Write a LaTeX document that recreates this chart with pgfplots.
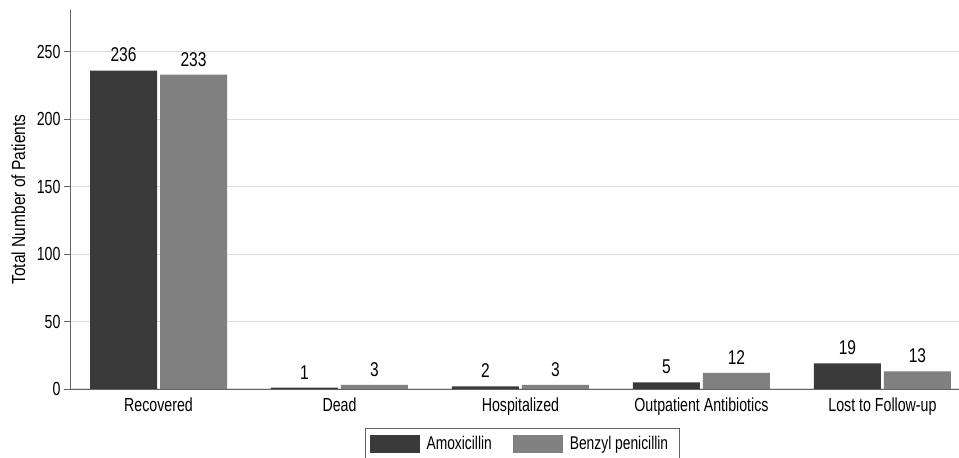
\documentclass[border=0pt]{standalone}
\usepackage{fontspec}
\setmainfont{Liberation Sans}[FakeStretch=0.75]
\newfontfamily\labfont{Liberation Sans}[FakeStretch=0.82]
\newfontfamily\numfont{Liberation Sans}[FakeStretch=0.78]
\usepackage{pgfplots}
\pgfplotsset{compat=1.18}
\definecolor{amox}{RGB}{58,58,58}
\definecolor{benz}{RGB}{128,128,128}
\definecolor{axisgray}{RGB}{100,100,100}
\definecolor{gridgray}{RGB}{220,220,220}
\begin{document}
\begin{tikzpicture}
\useasboundingbox (0,0) rectangle (959bp,458bp);
\begin{axis}[
  at={(70bp,69bp)}, anchor=south west,
  scale only axis, width=889bp, height=379bp,
  ybar, bar width=67bp,
  xmin=-0.489, xmax=4.423, ymin=0, ymax=281,
  xtick={0,...,4},
  xticklabels={Recovered,Dead,Hospitalized,Outpatient Antibiotics,Lost to Follow-up},
  ytick={0,50,...,250},
  axis x line*=bottom, axis y line*=left,
  axis line style={draw=axisgray, line width=1bp, -},
  x tick style={draw=none},
  y tick style={draw=axisgray, line width=1bp},
  tick align=outside, major tick length=6bp,
  ymajorgrids, grid style={draw=gridgray, line width=1.2bp},
  tick label style={font=\fontsize{19}{21}\selectfont},
  xticklabel style={yshift=1bp},
  /pgf/number format/assume math mode=true,
  ylabel={Total Number of Patients},
  ylabel style={font=\labfont\fontsize{19}{21}\selectfont,
    at={(axis description cs:-0.058,0.5)}, anchor=center},
  nodes near coords,
  nodes near coords style={font=\numfont\fontsize{20}{22}\selectfont, black, anchor=south, yshift=5bp},
  legend columns=2,
  legend style={at={(0.332,-0.103)}, anchor=north west, draw=axisgray, line width=0.8bp,
    font=\fontsize{18.5}{20}\selectfont, inner xsep=4bp, inner ysep=6bp,
    nodes={inner xsep=7bp},
    /tikz/every even column/.append style={column sep=14bp}},
]
\addplot[fill=amox, draw=none, bar shift=-35bp,
  legend image code/.code={\fill[amox] (0bp,-9bp) rectangle (50bp,9bp);}]
  coordinates {(0,236) (1,1) (2,2) (3,5) (4,19)};
\addplot[fill=benz, draw=none, bar shift=35bp,
  legend image code/.code={\fill[benz] (0bp,-9bp) rectangle (50bp,9bp);}]
  coordinates {(0,233) (1,3) (2,3) (3,12) (4,13)};
\legend{Amoxicillin, Benzyl penicillin}
\end{axis}
\end{tikzpicture}
\end{document}
